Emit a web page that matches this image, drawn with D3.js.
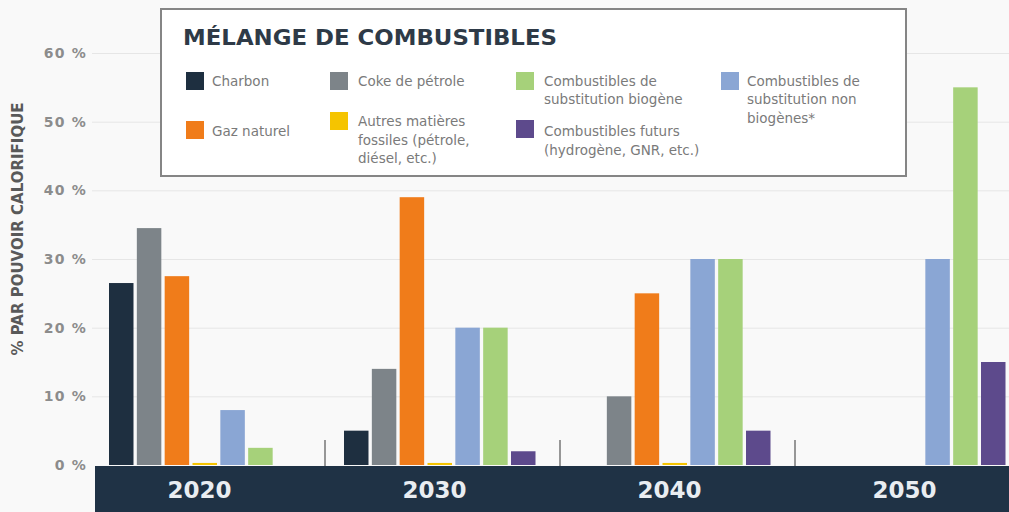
<!DOCTYPE html>
<html>
<head>
<meta charset="utf-8">
<script src="https://cdn.jsdelivr.net/npm/d3@7/dist/d3.min.js"></script>
<style>
  html, body { margin: 0; padding: 0; background: #f9f9f9; }
  svg { display: block; }
  text { font-family: "DejaVu Sans", sans-serif; }
</style>
</head>
<body>
<svg id="chart" width="1009" height="512"></svg>
<script>
// ---- DATA ----
const years = ["2020", "2030", "2040", "2050"];
const seriesNames = [
  "Charbon",
  "Coke de pétrole",
  "Gaz naturel",
  "Autres matières fossiles (pétrole, diésel, etc.)",
  "Combustibles de substitution non biogènes*",
  "Combustibles de substitution biogène",
  "Combustibles futurs (hydrogène, GNR, etc.)"
];
const charbon     = [26.5, 5, 0, 0];
const cokePetrole = [34.5, 14, 10, 0];
const gazNaturel  = [27.5, 39, 25, 0];
const autres      = [0.3, 0.3, 0.3, 0];
const nonBiogene  = [8, 20, 30, 30];
const biogene     = [2.5, 20, 30, 55];
const futurs      = [0, 2, 5, 15];
const yTicks = [0, 10, 20, 30, 40, 50, 60];
const colors = ["#1e2f40", "#7d8489", "#f07c1a", "#f5c400", "#8aa6d4", "#a6d17a", "#5d4a8c"];

const seriesValues = [charbon, cokePetrole, gazNaturel, autres, nonBiogene, biogene, futurs];

// Legend layout (labels split into lines)
const legendItems = [
  { s: 0, lines: ["Charbon"], x: 186, y: 72, tx: 212, ty: [81] },
  { s: 1, lines: ["Coke de pétrole"], x: 330, y: 72, tx: 358, ty: [81] },
  { s: 5, lines: ["Combustibles de", "substitution biogène"], x: 516, y: 72, tx: 544, ty: [81, 99.5] },
  { s: 4, lines: ["Combustibles de", "substitution non", "biogènes*"], x: 721, y: 72, tx: 747, ty: [81, 99.5, 118] },
  { s: 2, lines: ["Gaz naturel"], x: 186, y: 121, tx: 212, ty: [131] },
  { s: 3, lines: ["Autres matières", "fossiles (pétrole,", "diésel, etc.)"], x: 330, y: 112, tx: 358, ty: [121.5, 140, 158.5] },
  { s: 6, lines: ["Combustibles futurs", "(hydrogène, GNR, etc.)"], x: 516, y: 120, tx: 544, ty: [131, 150] }
];

// ---- CHART ----
const svg = d3.select("#chart");
const W = 1009, H = 512;

svg.append("rect").attr("width", W).attr("height", H).attr("fill", "#f9f9f9");

const y = d3.scaleLinear().domain([0, 60]).range([465, 53]);
const x0 = d3.scaleBand().domain(years).range([90, 1030]).paddingInner(0).paddingOuter(0);
const x1 = d3.scaleBand().domain(d3.range(seriesNames.length)).range([19, 210.5]).paddingInner(0.12).paddingOuter(0);

// gridlines
svg.append("g").selectAll("line").data(yTicks.filter(d => d > 0)).join("line")
  .attr("x1", 92).attr("x2", W)
  .attr("y1", d => y(d) + 0.5).attr("y2", d => y(d) + 0.5)
  .attr("stroke", "#e6e6e6").attr("stroke-width", 1);

// y-axis tick labels
const yAxis = d3.axisLeft(y).tickValues(yTicks).tickSize(0).tickFormat(d => d + "\u00a0%");
const yg = svg.append("g").attr("transform", "translate(87,0)").call(yAxis);
yg.select(".domain").remove();
yg.selectAll("text")
  .attr("x", 0)
  .attr("fill", "#8c8c8c")
  .style("font-family", "DejaVu Sans, sans-serif")
  .style("font-size", "14px")
  .style("font-weight", "bold")
  .style("letter-spacing", "1.2px");

// y title
svg.append("text")
  .attr("transform", "translate(23,229) rotate(-90)")
  .attr("text-anchor", "middle")
  .attr("fill", "#595959")
  .style("font-size", "15px")
  .style("font-weight", "bold")
  .text("% PAR POUVOIR CALORIFIQUE");

// bars
const groups = svg.append("g").selectAll("g").data(years).join("g")
  .attr("transform", d => `translate(${x0(d)},0)`);

groups.selectAll("rect").data((d, i) => seriesValues.map((vals, s) => ({ s, v: vals[i] })))
  .join("rect")
  .attr("x", d => x1(d.s))
  .attr("width", x1.bandwidth())
  .attr("y", d => y(d.v))
  .attr("height", d => y(0) - y(d.v))
  .attr("fill", d => colors[d.s]);

// separators between groups
svg.append("g").selectAll("line").data(years.slice(1)).join("line")
  .attr("x1", d => x0(d)).attr("x2", d => x0(d))
  .attr("y1", 440).attr("y2", 466)
  .attr("stroke", "#555").attr("stroke-width", 1.2);

// bottom dark band
svg.append("rect").attr("x", 95).attr("y", 466).attr("width", W - 95).attr("height", H - 466)
  .attr("fill", "#1f3245");

// x labels
const xAxis = d3.axisBottom(x0).tickSize(0);
const xg = svg.append("g").attr("transform", "translate(-8,466)").call(xAxis);
xg.select(".domain").remove();
xg.selectAll("text")
  .attr("y", 0).attr("dy", "32px")
  .attr("fill", "#e9edf1")
  .style("font-family", "DejaVu Sans, sans-serif")
  .style("font-size", "23px")
  .style("font-weight", "bold");

// legend box
const lg = svg.append("g");
lg.append("rect").attr("x", 161).attr("y", 9).attr("width", 745).attr("height", 167)
  .attr("fill", "#ffffff").attr("stroke", "#858585").attr("stroke-width", 2);
lg.append("text").attr("x", 183).attr("y", 45)
  .attr("fill", "#2e3a47")
  .style("font-size", "22px").style("font-weight", "bold")
  .attr("textLength", 374).attr("lengthAdjust", "spacingAndGlyphs")
  .text("MÉLANGE DE COMBUSTIBLES");

const items = lg.selectAll("g.item").data(legendItems).join("g").attr("class", "item");
items.append("rect")
  .attr("x", d => d.x).attr("y", d => d.y).attr("width", 18).attr("height", 18)
  .attr("fill", d => colors[d.s]);
items.each(function(d) {
  const g = d3.select(this);
  d.lines.forEach((ln, i) => {
    g.append("text").attr("x", d.tx).attr("y", d.ty[i]).attr("dy", "0.35em")
      .attr("fill", "#7a7a7a")
      .style("font-size", "13.5px")
      .text(ln);
  });
});
</script>
</body>
</html>
